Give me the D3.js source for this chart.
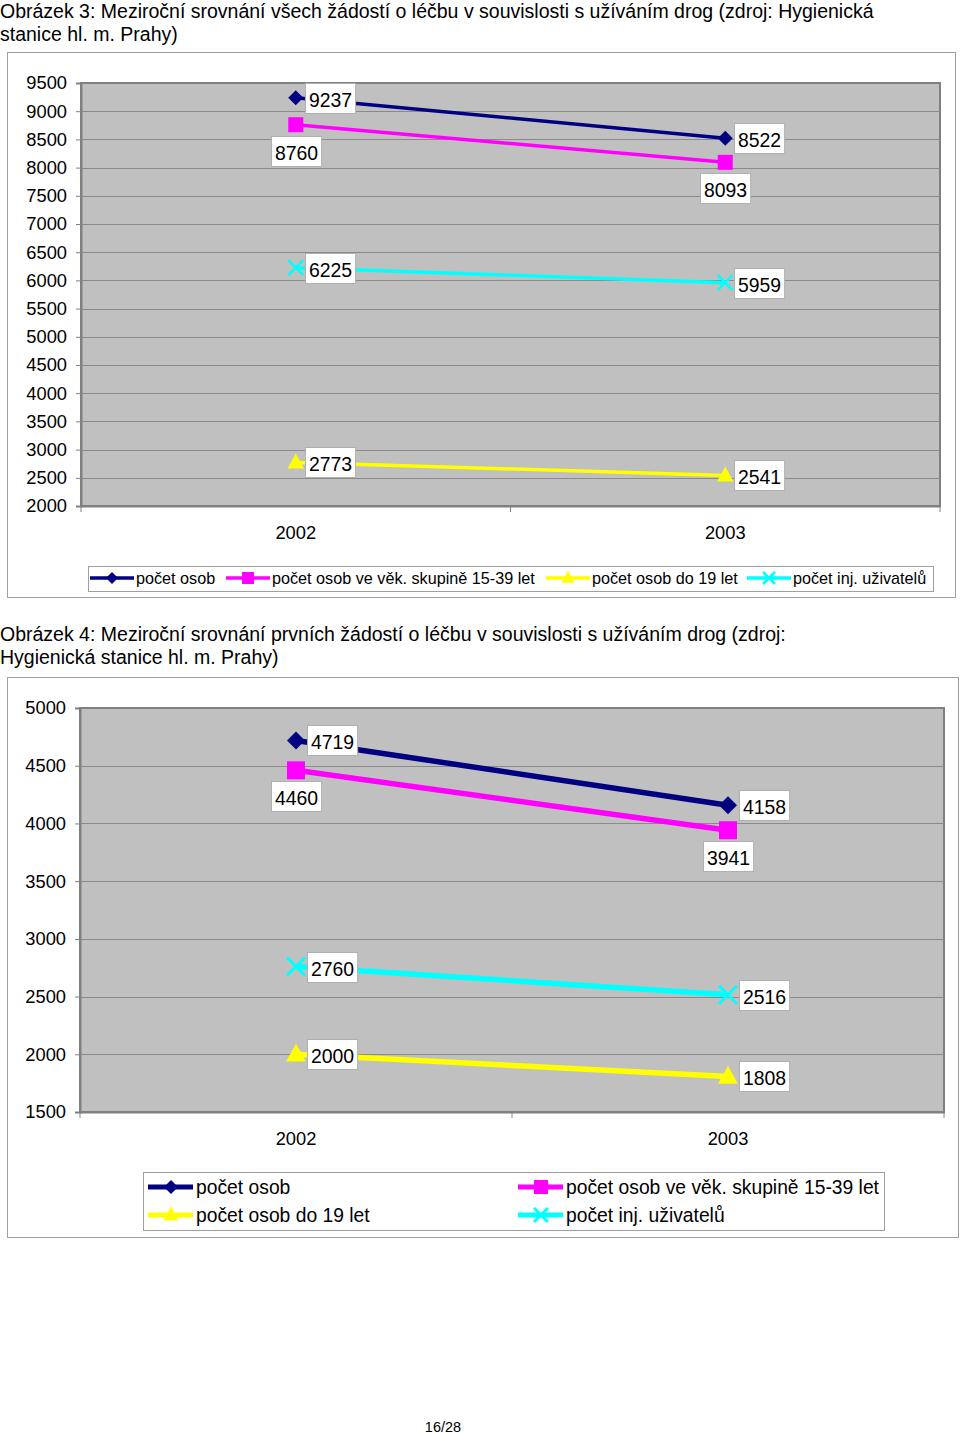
<!DOCTYPE html>
<html><head><meta charset="utf-8">
<script src="https://cdn.jsdelivr.net/npm/d3@7/dist/d3.min.js"></script>
<style>
body{margin:0;background:#fff;}
svg text{font-family:"Liberation Sans",Arial,sans-serif;fill:#000;}
</style></head>
<body>
<svg id="c" width="960" height="1433"></svg>
<script>
// ---------- DATA ----------
const years = ["2002", "2003"];
const seriesNames = ["počet osob", "počet osob ve věk. skupině 15-39 let", "počet osob do 19 let", "počet inj. uživatelů"];
const fig3Title = ["Obrázek 3: Meziroční srovnání všech žádostí o léčbu v souvislosti s užíváním drog (zdroj: Hygienická", "stanice hl. m. Prahy)"];
const fig3Osob = [9237, 8522];
const fig3Vek = [8760, 8093];
const fig3Do19 = [2773, 2541];
const fig3Inj = [6225, 5959];
const fig3Ticks = [2000, 2500, 3000, 3500, 4000, 4500, 5000, 5500, 6000, 6500, 7000, 7500, 8000, 8500, 9000, 9500];
const fig4Title = ["Obrázek 4: Meziroční srovnání prvních žádostí o léčbu v souvislosti s užíváním drog (zdroj:", "Hygienická stanice hl. m. Prahy)"];
const fig4Osob = [4719, 4158];
const fig4Vek = [4460, 3941];
const fig4Do19 = [2000, 1808];
const fig4Inj = [2760, 2516];
const fig4Ticks = [1500, 2000, 2500, 3000, 3500, 4000, 4500, 5000];
const pageLabel = "16/28";

// ---------- STYLE ----------
const colors = ["#000080", "#ff00ff", "#ffff00", "#00ffff"];
const markers = ["diamond", "square", "triangle", "cross"];
// label placement per series per point
const fig3Place = [["right","right"],["below","below"],["right","right"],["right","right"]];
const fig4Place = [["right","right"],["below","below"],["right","right"],["right","right"]];

const svg = d3.select("#c");

function markerPath(type, s) {
  if (type === "diamond") return `M0,${-s}L${s},0L0,${s}L${-s},0Z`;
  if (type === "square") return `M${-s},${-s}H${s}V${s}H${-s}Z`;
  if (type === "triangle") return `M0,${-s*1.2}L${s*1.1},${s*0.8}L${-s*1.1},${s*0.8}Z`;
  return `M${-s},${-s}L${s},${s}M${-s},${s}L${s},${-s}`;
}
function drawMarker(g, type, x, y, s, color, sw) {
  const p = g.append("path").attr("d", markerPath(type, s)).attr("transform", `translate(${x},${y})`);
  if (type === "cross") p.attr("fill", "none").attr("stroke", color).attr("stroke-width", sw);
  else p.attr("fill", color).attr("stroke", "none");
}

function drawChart(cfg) {
  const g = svg.append("g");
  // titles
  cfg.title.forEach((t, i) => {
    g.append("text").attr("x", 0).attr("y", cfg.titleY + i * 23).attr("font-size", 19.5).text(t);
  });
  // outer frame
  g.append("rect").attr("x", cfg.frame[0] + 0.5).attr("y", cfg.frame[1] + 0.5)
    .attr("width", cfg.frame[2] - cfg.frame[0]).attr("height", cfg.frame[3] - cfg.frame[1])
    .attr("fill", "#fff").attr("stroke", "#a0a0a0").attr("stroke-width", 1);

  const x = d3.scaleBand().domain(years).range([cfg.plot[0], cfg.plot[1]]);
  const y = d3.scaleLinear().domain(d3.extent(cfg.ticks)).range([cfg.plot[3], cfg.plot[2]]);

  // plot background
  g.append("rect").attr("x", cfg.plot[0]).attr("y", cfg.plot[2])
    .attr("width", cfg.plot[1] - cfg.plot[0]).attr("height", cfg.plot[3] - cfg.plot[2])
    .attr("fill", "#c0c0c0").attr("stroke", "#808080").attr("stroke-width", 2);

  // gridlines
  g.append("g").selectAll("line").data(cfg.ticks.slice(1, -1)).join("line")
    .attr("x1", cfg.plot[0]).attr("x2", cfg.plot[1])
    .attr("y1", d => Math.round(y(d)) + 0.5).attr("y2", d => Math.round(y(d)) + 0.5)
    .attr("stroke", "#8a8a8a").attr("stroke-width", 1);

  // y axis
  const ya = g.append("g").attr("transform", `translate(${cfg.plot[0]},0)`)
    .call(d3.axisLeft(y).tickValues(cfg.ticks).tickFormat(d3.format("d")).tickSize(5).tickPadding(9));
  ya.select(".domain").attr("stroke", "#808080").attr("stroke-width", 2);
  ya.selectAll(".tick line").attr("stroke", "#808080");
  ya.selectAll("text").attr("font-size", 18.3).attr("font-family", "Liberation Sans, Arial, sans-serif").attr("fill", "#000");

  // x axis
  const xa = g.append("g").attr("transform", `translate(0,${cfg.plot[3]})`)
    .call(d3.axisBottom(x).tickSize(0).tickPadding(cfg.xPad));
  xa.select(".domain").attr("stroke", "#808080").attr("stroke-width", 2);
  xa.selectAll("text").attr("font-size", 18.3).attr("font-family", "Liberation Sans, Arial, sans-serif").attr("fill", "#000");
  // category separator ticks
  const sep = [cfg.plot[0], (cfg.plot[0] + cfg.plot[1]) / 2, cfg.plot[1]];
  g.append("g").selectAll("line").data(sep).join("line")
    .attr("x1", d => d).attr("x2", d => d).attr("y1", cfg.plot[3]).attr("y2", cfg.plot[3] + 6)
    .attr("stroke", "#808080").attr("stroke-width", 1);

  const cx = d => x(d) + x.bandwidth() / 2;
  const line = d3.line().x((d, i) => cx(years[i])).y(d => y(d));

  // lines (draw in reverse order so navy on top)
  const order = [3, 2, 1, 0];
  order.forEach(si => {
    g.append("path").datum(cfg.series[si]).attr("d", line).attr("fill", "none")
      .attr("stroke", colors[si]).attr("stroke-width", cfg.lw);
  });
  order.forEach(si => {
    cfg.series[si].forEach((v, i) => {
      drawMarker(g, markers[si], cx(years[i]), y(v), cfg.ms, colors[si], cfg.crossW);
    });
  });

  // data labels
  cfg.series.forEach((vals, si) => {
    vals.forEach((v, i) => {
      const px = cx(years[i]), py = y(v);
      const place = cfg.place[si][i];
      const lg = g.append("g");
      const t = lg.append("text").attr("font-size", 19.4).attr("dominant-baseline", "central").text(d3.format("d")(v));
      const w = t.node().getComputedTextLength();
      const bw = w + 7, bh = 30;
      let bx, by;
      if (place === "right") { bx = px + cfg.rightOff; by = py - bh / 2; }
      else { bx = px - bw / 2; by = py + cfg.belowOff; }
      lg.insert("rect", "text").attr("x", Math.round(bx) + 0.5).attr("y", Math.round(by) + 0.5)
        .attr("width", bw).attr("height", bh).attr("fill", "#fff").attr("stroke", "#b0b0b0");
      t.attr("x", Math.round(bx) + 4).attr("y", Math.round(by) + bh / 2 + 1.5);
    });
  });

  cfg.legend(g);
}

// ---------- Chart 1 ----------
drawChart({
  title: fig3Title, titleY: 18,
  frame: [7, 52, 955, 597],
  plot: [81, 940, 83, 506],
  ticks: fig3Ticks,
  series: [fig3Osob, fig3Vek, fig3Do19, fig3Inj],
  place: fig3Place,
  lw: 3.5, ms: 7.5, crossW: 2.5, rightOff: 9, belowOff: 11, xPad: 20,
  legend: g => {
    const lg = g.append("g");
    lg.append("rect").attr("x", 88.5).attr("y", 566.5).attr("width", 845).attr("height", 25)
      .attr("fill", "#fff").attr("stroke", "#a0a0a0");
    const starts = [90, 226, 546, 747];
    seriesNames.forEach((n, i) => {
      const xp = starts[i];
      lg.append("line").attr("x1", xp).attr("x2", xp + 44).attr("y1", 578).attr("y2", 578)
        .attr("stroke", colors[i]).attr("stroke-width", 3.5);
      drawMarker(lg, markers[i], xp + 22, 578, 6, colors[i], 2.5);
      lg.append("text").attr("x", xp + 46).attr("y", 584).attr("font-size", 16.2).text(n);
    });
  }
});

// ---------- Chart 2 ----------
drawChart({
  title: fig4Title, titleY: 641,
  frame: [7, 677, 958, 1237],
  plot: [80, 944, 708, 1112],
  ticks: fig4Ticks,
  series: [fig4Osob, fig4Vek, fig4Do19, fig4Inj],
  place: fig4Place,
  lw: 5.5, ms: 9, crossW: 3, rightOff: 11, belowOff: 11, xPad: 20,
  legend: g => {
    const lg = g.append("g");
    lg.append("rect").attr("x", 143.5).attr("y", 1172.5).attr("width", 741).attr("height", 58)
      .attr("fill", "#fff").attr("stroke", "#a0a0a0");
    const pos = [[148, 1187], [518, 1187], [148, 1215], [518, 1215]];
    const legOrder = [0, 1, 2, 3];
    legOrder.forEach((si, k) => {
      const [lx, ly] = pos[k];
      lg.append("line").attr("x1", lx).attr("x2", lx + 45).attr("y1", ly).attr("y2", ly)
        .attr("stroke", colors[si]).attr("stroke-width", 5);
      drawMarker(lg, markers[si], lx + 23, ly, 7, colors[si], 3);
      lg.append("text").attr("x", lx + 48).attr("y", ly + 7).attr("font-size", 19.3).text(seriesNames[si]);
    });
  }
});

// page number
svg.append("text").attr("x", 443).attr("y", 1431.5).attr("text-anchor", "middle").attr("font-size", 14.5).text(pageLabel);
</script>
</body></html>
